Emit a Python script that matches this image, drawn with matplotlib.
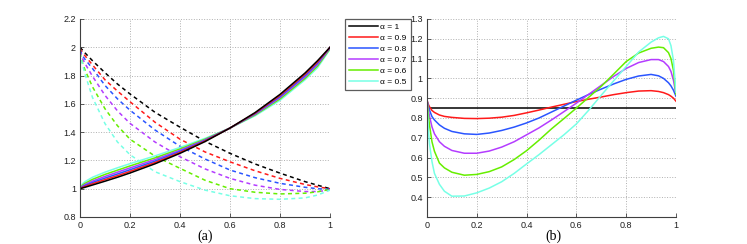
import numpy as np
import matplotlib
matplotlib.use("Agg")
import matplotlib.pyplot as plt

plt.rcParams['font.family'] = ['Liberation Sans', 'DejaVu Sans']

# alpha values and colours used in both panels
alphas = [1, 0.9, 0.8, 0.7, 0.6, 0.5]
colors = ['#000000', '#ff1a1a', '#2a55ff', '#b43cff', '#66ee00', '#77ffe6']

# ---- panel (a): values ----
xa = [0, 0.01, 0.02, 0.05, 0.1, 0.15, 0.2, 0.3, 0.4, 0.5, 0.6, 0.7, 0.8, 0.9, 0.95, 1.0]

dash_a10 = [2.0, 1.98, 1.96, 1.905, 1.82, 1.74, 1.67, 1.54, 1.435, 1.335, 1.25, 1.175, 1.11, 1.05, 1.025, 1.0]
dash_a09 = [1.99, 1.96, 1.94, 1.875, 1.77, 1.69, 1.615, 1.47, 1.35, 1.26, 1.19, 1.127, 1.073, 1.03, 1.013, 1.0]
dash_a08 = [1.98, 1.94, 1.915, 1.85, 1.73, 1.635, 1.555, 1.415, 1.30, 1.21, 1.132, 1.078, 1.038, 1.01, 1.0, 0.995]
dash_a07 = [1.97, 1.92, 1.885, 1.795, 1.66, 1.55, 1.462, 1.33, 1.226, 1.14, 1.073, 1.025, 0.995, 0.98, 0.98, 0.99]
dash_a06 = [1.96, 1.89, 1.84, 1.72, 1.565, 1.445, 1.35, 1.23, 1.144, 1.06, 1.0, 0.975, 0.963, 0.968, 0.978, 0.995]
dash_a05 = [1.96, 1.88, 1.81, 1.645, 1.46, 1.33, 1.24, 1.12, 1.05, 0.99, 0.95, 0.93, 0.925, 0.935, 0.955, 0.99]

solid_a10 = [1.0, 1.005, 1.01, 1.026, 1.053, 1.081, 1.111, 1.176, 1.25, 1.333, 1.429, 1.538, 1.667, 1.818, 1.905, 2.0]
solid_a09 = [1.0, 1.009, 1.016, 1.035, 1.064, 1.092, 1.122, 1.185, 1.256, 1.337, 1.429, 1.534, 1.66, 1.81, 1.897, 2.0]
solid_a08 = [1.0, 1.013, 1.022, 1.044, 1.075, 1.104, 1.134, 1.195, 1.264, 1.341, 1.429, 1.53, 1.652, 1.80, 1.888, 2.0]
solid_a07 = [1.0, 1.018, 1.029, 1.054, 1.087, 1.117, 1.147, 1.206, 1.272, 1.345, 1.429, 1.526, 1.644, 1.79, 1.878, 1.995]
solid_a06 = [1.0, 1.025, 1.038, 1.066, 1.101, 1.131, 1.161, 1.218, 1.281, 1.35, 1.429, 1.521, 1.635, 1.78, 1.867, 1.99]
solid_a05 = [1.0, 1.035, 1.05, 1.081, 1.117, 1.148, 1.177, 1.232, 1.292, 1.356, 1.429, 1.515, 1.625, 1.77, 1.855, 1.985]

dash_a = [dash_a10, dash_a09, dash_a08, dash_a07, dash_a06, dash_a05]
solid_a = [solid_a10, solid_a09, solid_a08, solid_a07, solid_a06, solid_a05]

# ---- panel (b) ----
xb0 = [0, 1]
b10 = [0.848, 0.848]

xb = [0, 0.005, 0.01, 0.02, 0.03, 0.05, 0.07, 0.1, 0.15, 0.2, 0.25, 0.3, 0.35, 0.4,
      0.45, 0.5, 0.55, 0.6, 0.65, 0.7, 0.75, 0.8, 0.85, 0.9, 0.93, 0.95, 0.97,
      0.98, 0.99, 1.0]
b09 = [0.89, 0.87, 0.857, 0.838, 0.828, 0.815, 0.808, 0.803, 0.798, 0.797, 0.799, 0.804,
       0.813, 0.826, 0.84, 0.855, 0.869, 0.883, 0.895, 0.906, 0.918, 0.928, 0.936,
       0.938, 0.934, 0.928, 0.918, 0.91, 0.9, 0.885]
b08 = [0.89, 0.86, 0.84, 0.807, 0.79, 0.765, 0.748, 0.732, 0.72, 0.717, 0.724, 0.737,
       0.754, 0.775, 0.8, 0.83, 0.86, 0.89, 0.919, 0.946, 0.972, 0.995, 1.012, 1.02,
       1.013, 1.0, 0.978, 0.962, 0.94, 0.91]
b07 = [0.895, 0.85, 0.81, 0.755, 0.72, 0.68, 0.657, 0.636, 0.622, 0.622, 0.633, 0.653,
       0.68, 0.715, 0.75, 0.79, 0.832, 0.875, 0.92, 0.965, 1.01, 1.05, 1.08, 1.095,
       1.095, 1.085, 1.06, 1.035, 0.99, 0.92]
b06 = [0.9, 0.82, 0.765, 0.68, 0.632, 0.572, 0.548, 0.526, 0.511, 0.515, 0.529, 0.553,
       0.59, 0.635, 0.688, 0.745, 0.797, 0.85, 0.905, 0.96, 1.022, 1.085, 1.128, 1.152,
       1.158, 1.155, 1.13, 1.1, 1.04, 0.92]
b05 = [0.9, 0.75, 0.67, 0.58, 0.52, 0.465, 0.43, 0.405, 0.406, 0.422, 0.446, 0.478,
       0.52, 0.568, 0.615, 0.665, 0.715, 0.77, 0.84, 0.915, 0.988, 1.06, 1.133, 1.183,
       1.205, 1.212, 1.2, 1.165, 1.09, 0.93]

curves_b = [b09, b08, b07, b06, b05]

fig = plt.figure(figsize=(7.47, 2.44), dpi=100)
ax1 = fig.add_axes([0.1071, 0.1107, 0.3347, 0.8115])
ax2 = fig.add_axes([0.5716, 0.1107, 0.3333, 0.8115])

lw = 1.1
for i in range(6):
    ax1.plot(xa, dash_a[i], color=colors[i], lw=lw, dashes=(2.6, 2.2))
for i in range(5, -1, -1):
    ax1.plot(xa, solid_a[i], color=colors[i], lw=lw)

handles = []
h, = ax2.plot(xb0, b10, color=colors[0], lw=lw, label='α = 1')
handles.append(h)
for i in range(5):
    h, = ax2.plot(xb, curves_b[i], color=colors[i + 1], lw=lw,
                  label='α = %g' % alphas[i + 1])
    handles.append(h)

def style(ax, xlim, ylim, yticks):
    ax.set_xlim(*xlim)
    ax.set_ylim(*ylim)
    ax.set_xticks(np.arange(0, 1.01, 0.2))
    ax.set_yticks(yticks)
    ax.xaxis.set_major_formatter(matplotlib.ticker.FormatStrFormatter('%g'))
    ax.yaxis.set_major_formatter(matplotlib.ticker.FormatStrFormatter('%g'))
    ax.grid(True, ls=':', color='#b0b0b0', lw=0.7)
    for s in ['top', 'right']:
        ax.spines[s].set_visible(False)
    for s in ['left', 'bottom']:
        ax.spines[s].set_color('#404040')
        ax.spines[s].set_linewidth(0.8)
    ax.tick_params(direction='in', length=3, width=0.6, labelsize=6.5,
                   colors='#404040', labelcolor='#202020', pad=3)

style(ax1, (0, 1), (0.8, 2.2), np.round(np.arange(0.8, 2.21, 0.2), 1))
style(ax2, (0, 1), (0.3, 1.3), np.round(np.arange(0.4, 1.31, 0.1), 1))

leg = fig.legend(handles=handles, loc='upper left',
                 bbox_to_anchor=(345 / 747, 1 - 19 / 244), fontsize=6,
                 frameon=True, fancybox=False, handlelength=3.4,
                 handletextpad=0.3, borderpad=0.5, labelspacing=0.38,
                 borderaxespad=0)
leg.get_frame().set_edgecolor('#333333')
leg.get_frame().set_linewidth(0.9)

fig.text(205.5 / 747, 1 - 236 / 244, '(a)', ha='center', va='center',
         fontsize=10, family='Liberation Serif')
fig.text(553.5 / 747, 1 - 236 / 244, '(b)', ha='center', va='center',
         fontsize=10, family='Liberation Serif')

fig.savefig('out.png', dpi=100)
